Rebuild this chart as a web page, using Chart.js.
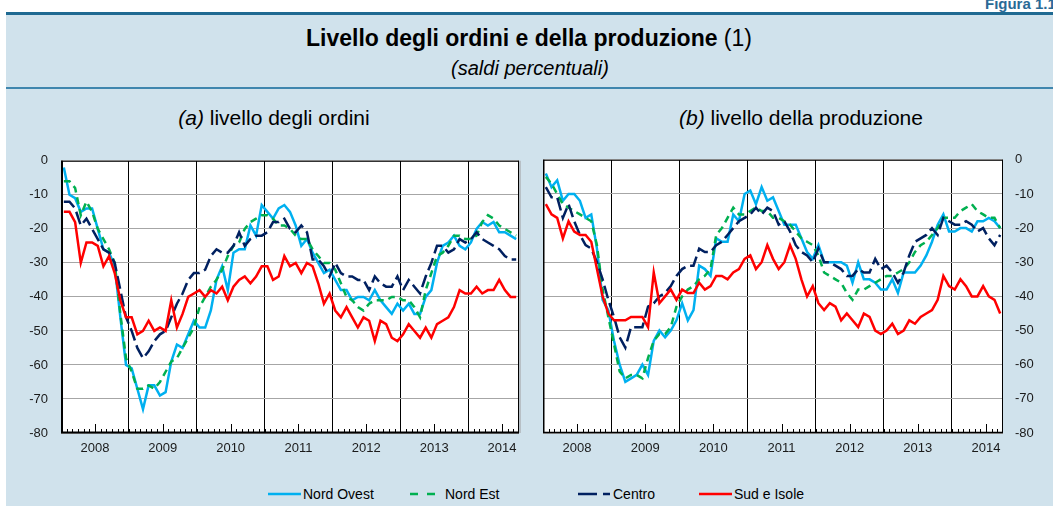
<!DOCTYPE html>
<html>
<head>
<meta charset="utf-8">
<script src="https://cdn.jsdelivr.net/npm/chart.js@4.4.0/dist/chart.umd.min.js"></script>
<style>
  body { margin: 0; width: 1053px; height: 506px; position: relative; overflow: hidden; background: #fff;
         font-family: "Liberation Sans", Arial, sans-serif; color: #000; }
  #panel { position: absolute; left: 6px; top: 12px; width: 1047px; height: 494px; background: #d0e2ec;
           border-top: 3px solid #1f6a92; box-sizing: border-box; }
  #sep { position: absolute; left: 6px; top: 87px; width: 1047px; height: 2px; background: #3f86ae; }
  #fig { position: absolute; right: -7px; top: -5px; font-size: 15px; font-weight: bold; color: #2a6a96; }
  #title { position: absolute; left: 0; width: 1058px; top: 25px; text-align: center; font-size: 23px; line-height: 26px; }
  #subtitle { position: absolute; left: 0; width: 1060px; top: 57px; text-align: center; font-size: 20px; line-height: 22px; font-style: italic; }
  .sub { position: absolute; top: 106px; font-size: 21px; line-height: 24px; text-align: center; width: 400px; }
  canvas { position: absolute; }
  .leg { position: absolute; top: 486px; font-size: 14px; line-height: 16px; white-space: nowrap; }
  .leg svg { position: absolute; top: 6px; }
</style>
</head>
<body>
<div id="panel"></div>
<div id="fig">Figura 1.1.</div>
<div id="sep"></div>
<div id="title"><b>Livello degli ordini e della produzione</b> (1)</div>
<div id="subtitle">(saldi percentuali)</div>
<div class="sub" style="left:74px"><i>(a)</i> livello degli ordini</div>
<div class="sub" style="left:601px"><i>(b)</i> livello della produzione</div>
<canvas id="ordini" width="530" height="330" style="left:0;top:140px"></canvas>
<canvas id="produzione" width="523" height="330" style="left:530px;top:140px"></canvas>

<div class="leg" style="left:268px"><svg width="33" height="4"><line x1="0" y1="2" x2="33" y2="2" stroke="#00b0f0" stroke-width="2.5"/></svg><span style="margin-left:35px">Nord Ovest</span></div>
<div class="leg" style="left:410px"><svg width="25" height="4"><line x1="0" y1="2" x2="25" y2="2" stroke="#00b050" stroke-width="2.5" stroke-dasharray="8 9"/></svg><span style="margin-left:35px">Nord Est</span></div>
<div class="leg" style="left:578px"><svg width="32" height="4"><line x1="0" y1="2" x2="32" y2="2" stroke="#002060" stroke-width="2.5" stroke-dasharray="19 6"/></svg><span style="margin-left:35px">Centro</span></div>
<div class="leg" style="left:699px"><svg width="33" height="4"><line x1="0" y1="2" x2="33" y2="2" stroke="#ff0000" stroke-width="2.5"/></svg><span style="margin-left:35px">Sud e Isole</span></div>

<script>
// monthly data, Jan 2008 - Sep 2014
const yearLabels = ["2008", "2009", "2010", "2011", "2012", "2013", "2014"];
const seriesNames = ["Nord Ovest", "Nord Est", "Centro", "Sud e Isole"];

// (a) livello degli ordini
const nordOvestOrdini = [
  -2, -10, -11, -15, -14, -14, -20, -26, -27, -31, -46, -60,
  -61, -67, -73, -66, -66, -69, -68, -59, -54, -55, -51, -47,
  -49, -49, -44, -35, -31, -38, -27, -26, -26, -19, -22, -13,
  -15, -17, -14, -13, -15, -19, -25, -23, -27, -30, -33, -32,
  -35, -38, -38, -41, -40, -40, -41, -38, -41, -43, -45, -42,
  -44, -42, -45, -45, -40, -38, -30, -25, -24, -22, -25, -26,
  -24, -20, -18, -19, -18, -21, -21, -22, -23];
const nordEstOrdini = [
  -6, -6, -8, -16, -12, -15, -20, -23, -26, -30, -45, -58,
  -62, -67, -67, -66, -67, -65, -62, -59, -58, -55, -52, -49,
  -43, -40, -37, -35, -32, -28, -25, -24, -20, -18, -17, -16,
  -16, -17, -19, -19, -20, -22, -23, -23, -26, -28, -30, -30,
  -32, -36, -40, -41, -43, -44, -42, -41, -41, -41, -40, -40,
  -41, -41, -43, -46, -38, -33, -28, -27, -25, -22, -22, -23,
  -23, -22, -18, -16, -17, -19, -20, -21, -22];
const centroOrdini = [
  -12, -12, -14, -19, -17, -20, -23, -26, -27, -30, -38, -46,
  -50, -55, -58, -56, -53, -51, -50, -46, -42, -39, -35, -33,
  -33, -32, -28, -26, -27, -27, -25, -21, -25, -23, -22, -22,
  -21, -18, -18, -17, -20, -21, -19, -21, -29, -29, -31, -34,
  -30, -33, -34, -34, -35, -35, -38, -34, -36, -37, -37, -34,
  -38, -35, -37, -39, -34, -30, -25, -25, -27, -26, -23, -24,
  -23, -21, -23, -24, -25, -26, -28, -29, -29];
const sudIsoleOrdini = [
  -15, -15, -18, -30, -24, -24, -25, -31, -28, -33, -41, -46,
  -46, -51, -50, -47, -50, -49, -50, -41, -49, -45, -40, -39,
  -38, -40, -38, -39, -37, -41, -37, -35, -34, -36, -34, -31,
  -31, -35, -34, -28, -31, -30, -33, -30, -31, -36, -42, -39,
  -44, -46, -43, -46, -49, -46, -47, -53, -47, -48, -52, -53,
  -51, -48, -50, -52, -49, -52, -48, -47, -46, -43, -38, -39,
  -39, -37, -39, -38, -38, -35, -38, -40, -40];

// (b) livello della produzione
const nordOvestProd = [
  -4, -8, -6, -12, -10, -10, -12, -17, -16, -26, -41, -44,
  -53, -60, -65, -64, -63, -60, -63, -53, -50, -52, -50, -47,
  -42, -47, -44, -31, -32, -34, -23, -24, -24, -16, -18, -10,
  -9, -13, -8, -12, -11, -15, -19, -19, -19, -23, -27, -29,
  -25, -30, -30, -30, -30, -31, -36, -30, -35, -35, -36, -38,
  -38, -35, -39, -33, -33, -33, -31, -28, -24, -19, -16, -21,
  -21, -20, -20, -21, -18, -18, -17, -18, -20];
const nordEstProd = [
  -5, -7, -10, -13, -14, -15, -16, -17, -18, -25, -38, -46,
  -54, -62, -64, -63, -63, -64, -58, -53, -51, -51, -49, -43,
  -40, -38, -37, -35, -34, -32, -22, -20, -17, -14, -16, -16,
  -15, -14, -15, -15, -17, -17, -18, -19, -21, -23, -24, -25,
  -28, -33, -34, -35, -36, -39, -41, -38, -38, -37, -36, -35,
  -34, -34, -33, -32, -30, -27, -25, -24, -22, -20, -17, -17,
  -17, -15, -14, -13, -15, -16, -17, -17, -20];
const centroProd = [
  -8, -11, -11, -17, -13, -18, -22, -25, -26, -30, -35, -41,
  -46, -52, -55, -49, -49, -49, -43, -42, -40, -39, -37, -34,
  -32, -31, -31, -26, -27, -27, -25, -24, -22, -20, -18, -17,
  -16, -14, -16, -14, -15, -19, -18, -21, -25, -27, -28, -30,
  -26, -30, -30, -31, -32, -34, -34, -32, -33, -33, -29, -32,
  -31, -33, -36, -33, -28, -24, -23, -22, -20, -22, -17, -18,
  -19, -19, -18, -19, -21, -20, -23, -25, -22];
const sudIsoleProd = [
  -13, -16, -17, -23, -18, -21, -22, -22, -24, -32, -40, -45,
  -47, -47, -47, -46, -46, -46, -49, -33, -42, -40, -38, -41,
  -38, -39, -39, -36, -38, -37, -34, -34, -35, -33, -32, -29,
  -28, -32, -30, -25, -29, -32, -30, -25, -29, -35, -40, -37,
  -42, -44, -42, -43, -47, -45, -47, -49, -45, -46, -50, -51,
  -50, -48, -51, -50, -47, -48, -46, -45, -44, -41, -34, -37,
  -38, -35, -37, -40, -40, -37, -40, -41, -45];

const colors = ["#00b0f0", "#00b050", "#002060", "#ff0000"];
const dashes = [[], [7, 5], [13, 5], []];

Chart.defaults.font.family = '"Liberation Sans", Arial, sans-serif';
Chart.defaults.font.size = 13;
Chart.defaults.color = "#1a1a1a";

// white plot area, black frame and small inward month ticks
const framePlugin = {
  id: "frame",
  beforeDraw(chart) {
    const { ctx, chartArea: a } = chart;
    ctx.save();
    ctx.fillStyle = "#fff";
    ctx.fillRect(a.left, a.top, a.right - a.left, a.bottom - a.top);
    ctx.restore();
  },
  afterDatasetsDraw(chart, args, opts) {
    const { ctx, chartArea: a, scales } = chart;
    const x = scales.x;
    ctx.save();
    ctx.strokeStyle = "#000";
    ctx.lineWidth = 1;
    for (let m = 1; m < nordOvestOrdini.length; m++) {
      const px = Math.round(x.getPixelForValue(m)) + 0.5;
      const len = m % 12 === 6 ? 9 : 4;
      ctx.beginPath();
      ctx.moveTo(px, a.bottom);
      ctx.lineTo(px, a.bottom - len);
      ctx.stroke();
    }
    ctx.beginPath();
    ctx.moveTo(a.left, a.top + 0.5);
    ctx.lineTo(a.right, a.top + 0.5);
    ctx.moveTo(a.right - 0.5, a.top);
    ctx.lineTo(a.right - 0.5, a.bottom);
    ctx.stroke();
    ctx.lineWidth = opts.thick;
    ctx.beginPath();
    ctx.moveTo(a.left + opts.thick / 2, a.top);
    ctx.lineTo(a.left + opts.thick / 2, a.bottom);
    ctx.moveTo(a.left, a.bottom - 0.5);
    ctx.lineTo(a.right, a.bottom - 0.5);
    ctx.stroke();
    if (opts.shadow) {
      ctx.strokeStyle = "#b8c0c6";
      ctx.lineWidth = 2;
      ctx.beginPath();
      ctx.moveTo(a.right + 1, a.top);
      ctx.lineTo(a.right + 1, a.bottom);
      ctx.stroke();
    }
    ctx.restore();
  }
};

function makeChart(id, seriesList, side) {
  const datasets = seriesList.map((vals, k) => ({
    label: seriesNames[k],
    data: vals.map((v, i) => ({ x: i + 0.5, y: v })),
    borderColor: colors[k],
    borderDash: dashes[k],
    borderWidth: 2.5,
    pointRadius: 0,
    tension: 0,
    fill: false,
    order: [3, 2, 1, 0][k]
  }));
  const left = side === "left";
  return new Chart(document.getElementById(id), {
    type: "line",
    data: { datasets },
    options: {
      responsive: false,
      animation: false,
      devicePixelRatio: 1,
      layout: { padding: left ? { top: 13, right: 11, left: 0, bottom: 0 } : { top: 13, right: 0, left: 13, bottom: 0 } },
      plugins: {
        legend: { display: false },
        tooltip: { enabled: false },
        frame: { thick: left ? 2 : 1.5, shadow: left }
      },
      scales: {
        x: {
          type: "linear",
          min: 0,
          max: nordOvestOrdini.length,
          afterFit: (s) => { s.height = 37; },
          border: { display: false },
          grid: {
            drawTicks: false,
            lineWidth: 1,
            color: (c) => (c.tick && c.tick.value % 12 === 0 && c.tick.value > 0 && c.tick.value < nordOvestOrdini.length) ? "#000" : "rgba(0,0,0,0)"
          },
          ticks: {
            stepSize: 1,
            autoSkip: false,
            maxRotation: 0,
            padding: 8,
            callback: (v) => (v % 12 === 6 ? yearLabels[(v - 6) / 12] : "")
          }
        },
        y: {
          position: left ? "left" : "right",
          min: -80,
          max: 0,
          afterFit: (s) => { s.width = left ? 61 : 50; },
          border: { display: false },
          grid: { drawTicks: false, color: "#a6a6a6", lineWidth: 1 },
          ticks: { stepSize: 10, padding: left ? 13 : 12 }
        }
      }
    },
    plugins: [framePlugin]
  });
}

makeChart("ordini", [nordOvestOrdini, nordEstOrdini, centroOrdini, sudIsoleOrdini], "left");
makeChart("produzione", [nordOvestProd, nordEstProd, centroProd, sudIsoleProd], "right");
</script>
</body>
</html>
